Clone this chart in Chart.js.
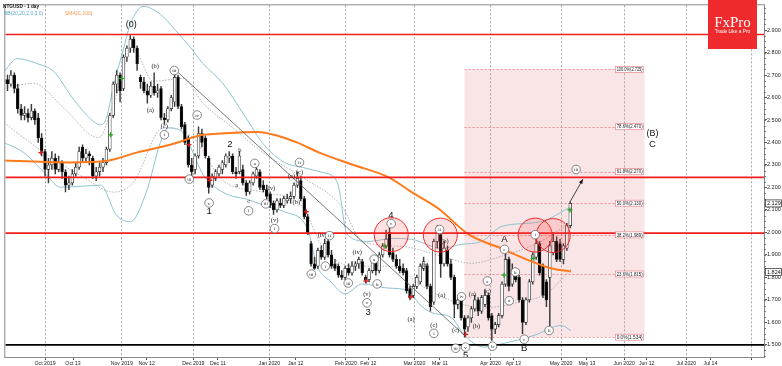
<!DOCTYPE html>
<html>
<head>
<meta charset="utf-8">
<script src="https://cdn.jsdelivr.net/npm/chart.js@4.4.0/dist/chart.umd.min.js"></script>
<style>
  html, body { margin: 0; padding: 0; background: #fff; }
  canvas { display: block; }
</style>
</head>
<body>
<canvas id="chart" width="782" height="366"></canvas>
<script>
// NTGUSD daily candles (bar 12 = Oct 1 2019)
const opens = [2.66,2.68,2.66,2.70,2.64,2.55,2.52,2.53,2.51,2.54, 2.51,2.42,2.36,2.28,2.30,2.33,2.28,2.31,2.27,2.21,
  2.22,2.26,2.29,2.38,2.33,2.35,2.33,2.25,2.27,2.29, 2.31,2.37,2.52,2.66,2.70,2.64,2.78,2.82,2.86,2.82,
  2.69,2.67,2.63,2.61,2.65,2.62,2.64,2.51,2.50,2.55, 2.58,2.69,2.56,2.48,2.42,2.30,2.28,2.34,2.44,2.42,
  2.33,2.21,2.24,2.26,2.28,2.30,2.33,2.34,2.27,2.27, 2.28,2.22,2.18,2.22,2.25,2.27,2.21,2.19,2.17,2.13,
  2.10,2.13,2.12,2.14,2.15,2.16,2.21,2.23,2.15,2.07, 1.95,1.86,1.85,1.92,1.89,1.96,1.90,1.86,1.85,1.81,
  1.80,1.84,1.82,1.85,1.86,1.87,1.80,1.79,1.83,1.88, 1.83,1.90,1.94,2.00,1.91,1.88,1.85,1.84,1.83,1.75,
  1.72,1.76,1.78,1.84,1.85,1.76,1.69,1.96,1.99,1.86, 1.92,1.86,1.80,1.68,1.70,1.62,1.58,1.62,1.66,1.70,
  1.65,1.68,1.72,1.63,1.57,1.59,1.63,1.77,1.88,1.77, 1.82,1.80,1.70,1.60,1.70,1.78,1.89,1.95,1.85,1.78,
  1.80,1.91,1.96,1.95,1.88,1.93,2.03];
const highs = [2.71,2.70,2.72,2.71,2.66,2.57,2.56,2.55,2.57,2.55, 2.53,2.44,2.37,2.33,2.36,2.35,2.34,2.32,2.28,2.25,
  2.28,2.31,2.38,2.39,2.37,2.36,2.34,2.29,2.31,2.33, 2.38,2.53,2.67,2.72,2.71,2.79,2.83,2.875,2.87,2.83,
  2.70,2.69,2.66,2.67,2.71,2.66,2.65,2.53,2.56,2.61, 2.72,2.70,2.57,2.49,2.43,2.33,2.35,2.47,2.46,2.43,
  2.34,2.26,2.28,2.30,2.32,2.35,2.36,2.35,2.29,2.36, 2.30,2.23,2.23,2.27,2.29,2.28,2.23,2.21,2.18,2.14,
  2.15,2.15,2.16,2.17,2.18,2.22,2.27,2.25,2.16,2.08, 1.96,1.89,1.93,1.94,1.97,1.97,1.92,1.88,1.86,1.83,
  1.85,1.86,1.87,1.87,1.89,1.88,1.81,1.84,1.88,1.89, 1.91,1.95,2.01,2.02,1.93,1.90,1.88,1.86,1.84,1.76,
  1.77,1.81,1.86,1.89,1.86,1.77,1.97,2.03,2.00,1.96, 1.94,1.88,1.81,1.72,1.71,1.63,1.63,1.67,1.72,1.71,
  1.72,1.745,1.73,1.64,1.60,1.64,1.78,1.905,1.89,1.86, 1.84,1.81,1.71,1.71,1.79,1.91,1.97,1.96,1.86,1.79,
  1.96,2.00,1.98,1.97,1.95,2.04,2.135];
const lows = [2.64,2.63,2.65,2.62,2.53,2.50,2.50,2.49,2.50,2.48, 2.40,2.34,2.25,2.22,2.28,2.26,2.27,2.24,2.18,2.19,
  2.21,2.25,2.28,2.31,2.31,2.30,2.24,2.23,2.25,2.27, 2.30,2.36,2.51,2.62,2.58,2.63,2.76,2.80,2.80,2.72,
  2.64,2.62,2.575,2.60,2.61,2.60,2.50,2.48,2.49,2.54, 2.56,2.55,2.46,2.39,2.29,2.24,2.26,2.33,2.38,2.33,
  2.175,2.20,2.23,2.25,2.26,2.29,2.31,2.26,2.24,2.26, 2.21,2.165,2.17,2.21,2.24,2.19,2.18,2.15,2.11,2.08,
  2.09,2.11,2.11,2.13,2.13,2.15,2.20,2.14,2.06,1.99, 1.85,1.835,1.84,1.88,1.88,1.89,1.84,1.83,1.80,1.79,
  1.79,1.81,1.81,1.83,1.84,1.81,1.775,1.78,1.82,1.81, 1.82,1.89,1.93,1.89,1.87,1.84,1.82,1.81,1.73,1.70,
  1.71,1.75,1.77,1.83,1.75,1.65,1.68,1.93,1.80,1.85, 1.85,1.79,1.62,1.66,1.61,1.534,1.56,1.60,1.65,1.63,
  1.64,1.67,1.61,1.52,1.55,1.58,1.62,1.76,1.74,1.76, 1.78,1.69,1.55,1.59,1.69,1.77,1.88,1.81,1.71,1.67,
  1.585,1.90,1.87,1.87,1.86,1.92,2.02];
const closes = [2.68,2.66,2.70,2.64,2.55,2.52,2.53,2.51,2.54,2.50, 2.42,2.36,2.28,2.30,2.33,2.28,2.31,2.27,2.21,2.22,
  2.26,2.29,2.36,2.33,2.35,2.34,2.25,2.27,2.29,2.31, 2.37,2.52,2.66,2.70,2.63,2.78,2.82,2.86,2.82,2.75,
  2.67,2.63,2.61,2.65,2.62,2.63,2.51,2.50,2.55,2.60, 2.69,2.56,2.47,2.40,2.30,2.27,2.34,2.44,2.40,2.34,
  2.20,2.25,2.27,2.29,2.31,2.34,2.34,2.27,2.26,2.34, 2.22,2.18,2.22,2.26,2.28,2.20,2.19,2.16,2.12,2.10,
  2.14,2.12,2.15,2.15,2.16,2.21,2.24,2.15,2.07,2.00, 1.86,1.84,1.92,1.89,1.95,1.90,1.85,1.84,1.81,1.80,
  1.84,1.82,1.85,1.86,1.88,1.82,1.79,1.83,1.87,1.83, 1.90,1.94,1.97,1.90,1.88,1.85,1.83,1.82,1.74,1.71,
  1.76,1.80,1.85,1.87,1.76,1.67,1.96,2.00,1.86,1.93, 1.86,1.80,1.68,1.70,1.62,1.57,1.62,1.66,1.70,1.65,
  1.71,1.72,1.62,1.57,1.59,1.63,1.77,1.88,1.76,1.83, 1.79,1.70,1.60,1.70,1.78,1.90,1.95,1.82,1.72,1.70,
  1.94,1.96,1.88,1.88,1.94,2.03,2.129];

// indicators, sampled as [bar, value]
const sma100 = [[0,2.320],[19.5,2.311],[29.2,2.316],[32,2.324],[38.8,2.355],[48.7,2.390],[58.3,2.434],[62.7,2.439],
  [74.3,2.447],[80.2,2.430],[86,2.399],[92.4,2.355],[102,2.302],[112.8,2.245],[119.5,2.179],[127.4,2.105],
  [136.2,1.991],[145.8,1.929],[154.5,1.872],[160.3,1.841],[166.2,1.826]];
const bbOuterUpper = [[0,2.715],[3.8,2.773],[9.6,2.751],[14.6,2.715],[19.5,2.610],[24.2,2.522],[28.3,2.478],[30,2.509],
  [32.1,2.654],[35,2.816],[37,2.926],[40.8,3.005],[45.8,2.970],[50.4,2.896],[54.5,2.825],[58.3,2.751],[64.1,2.663],
  [70,2.531],[76.4,2.386],[82.2,2.311],[87.5,2.289],[93.3,2.267],[97.7,2.223],[100.6,1.990],[107,1.960],[113.7,1.973],
  [119.5,1.969],[128.3,1.929],[134.1,1.947],[140,1.960],[145.8,2.026],[157.4,2.048],[166.2,2.114]];
const bbOuterLower = [[0,2.399],[5.8,2.355],[11.7,2.267],[16.6,2.201],[23.3,2.206],[28.3,2.210],[32.9,2.078],[37,2.048],
  [41.7,2.179],[45.8,2.399],[48.1,2.465],[52.5,2.443],[55.4,2.355],[58.3,2.258],[64.1,2.179],[72,2.144],[77.3,2.114],
  [82.2,2.092],[88.9,2.017],[91.8,1.850],[95.6,1.784],[100,1.727],[105,1.771],[112.2,1.753],[118.7,1.740],[121.6,1.683],
  [125.4,1.643],[131.2,1.621],[135,1.542],[140.8,1.490],[146.6,1.507],[155.4,1.542],[163.3,1.586],[166.2,1.564]];
const bbInnerUpper = [[0,2.641],[8.7,2.663],[17.5,2.553],[27.7,2.421],[32.1,2.575],[37.9,2.816],[43.7,2.672],[52.5,2.685],
  [58.3,2.575],[67.1,2.465],[75.8,2.355],[87.5,2.245],[99.1,2.114],[105,1.960],[116.6,1.938],[128.3,1.894],[137,1.863],
  [145.8,1.894],[157.4,1.960],[166.2,2.048]];
const bbInnerLower = [[0,2.487],[11.7,2.355],[23.3,2.245],[32.1,2.179],[37.9,2.223],[46.6,2.465],[55.4,2.421],[64.1,2.232],
  [75.8,2.179],[87.5,2.114],[93.3,1.938],[102,1.850],[113.7,1.850],[122.4,1.762],[131.2,1.696],[140.8,1.665],[152.5,1.696],
  [158.9,1.727],[166.2,1.837]];

// signal crosses
const greenBars = [31.2, 34.4, 111.7, 146.6, 155.1, 165.9];
const greenVals = [2.434, 2.685, 1.938, 1.810, 1.885, 2.100];
const redBars = [10.8, 54.2, 60.3, 88.6, 106.1, 119.2, 135.3];
const redVals = [2.355, 2.390, 2.232, 2.092, 1.784, 1.714, 1.547];

// axes
const tickBars = [12.0,20.2,34.5,41.8,55.5,62.7,77.8,85.5,100.2,106.8,120.3,127.8,142.6,149.3,163.3,170.9,181.8,188.4,200.0,207.1,219.2];
const tickLabels = ['Oct 2019','Oct 13','Nov 2019','Nov 12','Dec 2019','Dec 11','Jan 2020','Jan 12','Feb 2020','Feb 12',
  'Mar 2020','Mar 11','Apr 2020','Apr 13','May 2020','May 13','Jun 2020','Jun 12','Jul 2020','Jul 14',''];
const yTicks = [1.5,1.6,1.7,1.8,1.9,2.0,2.1,2.2,2.3,2.4,2.5,2.6,2.7,2.8,2.9];

// drawings
const redLevels = [2.880, 2.245, 1.997];
const blackLevel = 1.500;
const fibStartBar = 135, fibEndBar = 187.8;
const fibLevels = [1.534, 1.815, 1.989, 2.130, 2.270, 2.470, 2.725];
const fibTexts = ['0.0%(1.534)','23.6%(1.815)','38.2%(1.989)','50.0%(2.130)','61.8%(2.270)','78.6%(2.470)','100.0%(2.725)'];
const circleBars = [113.5, 127.9, 155.7, 161.0];
const circleVals = [1.990, 1.988, 1.988, 1.986];
const trendLine = [[50.4, 2.720], [135, 1.542]];
const arrowLine = [[165.9, 2.135], [169.7, 2.237]];
const lastClose = 2.129, lastSma = 1.824;

const waveText = ['(0)','1','2','3','4','5','A','B','(B)','C',
  '(a)','(b)','(c)','a','b','c','(iv)','(v)','(a)','(b)','(c)','(iv)','(iv)','(v)','(a)','(b)','(c)','(a)','(b)','(c)','(a)','(b)','(c)',
  'i','iii','iii','iv','v','i','a','iii','i','ii','iii','i','ii','iii','v','a','b','c','i','ii','iii','iv','v','a','b','c','a','b','c','i','ii','iii'];
const waveBar = [37.3,60.1,66.2,106.7,113.4,135.3,146.7,152.5,190.1,190.1,
  42.9,44.3,47.0,68.2,69.1,71.7,78.1,79.3,84.3,85.7,86.6,93.3,103.5,106.4,119.3,123.4,126.0,128.3,129.2,132.4,137.3,138.5,141.7,
  47.0,49.9,54.3,56.6,60.1,71.7,73.5,76.7,79.3,86.6,90.1,94.2,95.4,100.9,106.4,108.5,109.4,113.5,126.0,127.7,132.4,134.1,135.3,141.7,143.2,146.7,148.1,149.9,152.5,155.7,159.8,167.7];
const waveValue = [2.926,2.092,2.390,1.643,2.078,1.455,1.969,1.485,2.439,2.390,
  2.544,2.738,2.474,2.210,2.364,2.140,2.197,2.056,2.250,2.136,2.267,1.986,1.912,1.727,1.613,1.854,1.586,1.720,1.960,1.564,1.727,1.582,1.740,
  2.434,2.720,2.237,2.522,2.131,2.096,2.307,2.127,2.017,2.311,1.815,1.850,1.986,1.775,1.687,1.881,1.771,2.039,1.551,2.013,1.485,1.714,1.490,1.784,1.494,1.925,1.696,1.824,1.525,1.990,1.564,2.280];
const waveKind = waveText.map((t, i) => i < 10 ? 'big' : (i < 33 ? 'plain' : 'ring'));

const isMonthTick = tickLabels.map(t => t === '' || /\d{4}$/.test(t));
const pts = arr => arr.map(p => ({ x: p[0], y: p[1] }));

const overlay = {
  id: 'overlay',
  beforeDatasetsDraw(chart) {
    const { ctx, chartArea: a, scales: { x, y } } = chart;
    ctx.save();
    ctx.beginPath(); ctx.rect(a.left, a.top, a.right - a.left, a.bottom - a.top); ctx.clip();
    const x0 = x.getPixelForValue(fibStartBar), x1 = x.getPixelForValue(fibEndBar);
    const yt = y.getPixelForValue(fibLevels[fibLevels.length - 1]), yb = y.getPixelForValue(fibLevels[0]);
    ctx.fillStyle = 'rgba(226,120,130,0.2)';
    ctx.fillRect(x0, yt, x1 - x0, yb - yt);
    ctx.strokeStyle = 'rgba(225,80,90,0.7)'; ctx.lineWidth = 0.8; ctx.setLineDash([2, 2]);
    fibLevels.forEach(v => {
      const py = Math.round(y.getPixelForValue(v)) + 0.5;
      ctx.beginPath(); ctx.moveTo(x0, py); ctx.lineTo(x1, py); ctx.stroke();
    });
    ctx.restore();
  },
  afterDatasetsDraw(chart) {
    const { ctx, chartArea: a, scales: { x, y } } = chart;
    ctx.save();
    ctx.beginPath(); ctx.rect(a.left, a.top, a.right - a.left, a.bottom - a.top); ctx.clip();

    // horizontal levels
    ctx.lineWidth = 1.6; ctx.strokeStyle = '#f01e1e';
    redLevels.forEach(v => {
      const py = y.getPixelForValue(v);
      ctx.beginPath(); ctx.moveTo(a.left, py); ctx.lineTo(a.right, py); ctx.stroke();
    });
    ctx.strokeStyle = '#000'; ctx.lineWidth = 1.6;
    let py = y.getPixelForValue(blackLevel);
    ctx.beginPath(); ctx.moveTo(a.left, py); ctx.lineTo(a.right, py); ctx.stroke();

    // trend line
    ctx.strokeStyle = '#555'; ctx.lineWidth = 0.8;
    ctx.beginPath();
    ctx.moveTo(x.getPixelForValue(trendLine[0][0]), y.getPixelForValue(trendLine[0][1]));
    ctx.lineTo(x.getPixelForValue(trendLine[1][0]), y.getPixelForValue(trendLine[1][1]));
    ctx.stroke();

    // arrow
    const ax0 = x.getPixelForValue(arrowLine[0][0]), ay0 = y.getPixelForValue(arrowLine[0][1]);
    const ax1 = x.getPixelForValue(arrowLine[1][0]), ay1 = y.getPixelForValue(arrowLine[1][1]);
    ctx.strokeStyle = '#333'; ctx.fillStyle = '#111'; ctx.lineWidth = 0.9;
    ctx.beginPath(); ctx.moveTo(ax0, ay0); ctx.lineTo(ax1, ay1); ctx.stroke();
    const ang = Math.atan2(ay1 - ay0, ax1 - ax0);
    ctx.beginPath();
    ctx.moveTo(ax1, ay1);
    ctx.lineTo(ax1 - 5 * Math.cos(ang - 0.4), ay1 - 5 * Math.sin(ang - 0.4));
    ctx.lineTo(ax1 - 5 * Math.cos(ang + 0.4), ay1 - 5 * Math.sin(ang + 0.4));
    ctx.closePath(); ctx.fill();

    // red circles
    circleBars.forEach((b, i) => {
      ctx.beginPath();
      ctx.arc(x.getPixelForValue(b), y.getPixelForValue(circleVals[i]), 17, 0, Math.PI * 2);
      ctx.fillStyle = 'rgba(255,70,70,0.16)'; ctx.fill();
      ctx.strokeStyle = '#f02828'; ctx.lineWidth = 1; ctx.stroke();
    });

    // wave labels
    ctx.textAlign = 'center'; ctx.textBaseline = 'middle';
    waveText.forEach((t, i) => {
      const px = x.getPixelForValue(waveBar[i]), qy = y.getPixelForValue(waveValue[i]);
      if (waveKind[i] === 'big') {
        ctx.fillStyle = '#111';
        ctx.font = (t.length > 1 ? '9px' : '9.5px') + ' "Liberation Sans"';
        ctx.fillText(t, px, qy);
      } else if (waveKind[i] === 'plain') {
        ctx.fillStyle = '#1a1a1a';
        ctx.font = '6.5px "Liberation Serif"';
        ctx.fillText(t, px, qy);
      } else {
        ctx.beginPath(); ctx.arc(px, qy, 4.3, 0, Math.PI * 2);
        ctx.fillStyle = '#fff'; ctx.fill();
        ctx.strokeStyle = '#555'; ctx.lineWidth = 0.7; ctx.stroke();
        ctx.fillStyle = '#222'; ctx.font = '5px "Liberation Serif"';
        ctx.fillText(t, px, qy + 0.3, 6.5);
      }
    });

    // fib labels
    const fx1 = x.getPixelForValue(fibEndBar);
    ctx.font = '5px "Liberation Sans"'; ctx.textAlign = 'center';
    fibLevels.forEach((v, i) => {
      const ly = y.getPixelForValue(v);
      ctx.fillStyle = '#fff'; ctx.fillRect(fx1 - 29, ly - 3, 28, 6);
      ctx.strokeStyle = 'rgba(220,90,100,0.8)'; ctx.lineWidth = 0.6; ctx.strokeRect(fx1 - 29, ly - 3, 28, 6);
      ctx.fillStyle = '#222'; ctx.fillText(fibTexts[i], fx1 - 15, ly + 0.3, 26);
    });
    ctx.restore();
  },
  afterDraw(chart) {
    const { ctx, chartArea: a, scales: { y } } = chart;
    ctx.save();
    // frame
    ctx.strokeStyle = '#8a8a8a'; ctx.lineWidth = 1;
    ctx.strokeRect(a.left - 0.5, a.top - 0.5, a.right - a.left + 1, a.bottom - a.top + 1);
    // minor ticks on price axis
    ctx.strokeStyle = '#555'; ctx.lineWidth = 0.7;
    for (let v = 1.45; v <= 3.0; v += 0.025) {
      const py = Math.round(y.getPixelForValue(v)) + 0.5;
      ctx.beginPath(); ctx.moveTo(a.right, py); ctx.lineTo(a.right + 2, py); ctx.stroke();
    }
    // price boxes
    [[lastClose, lastClose.toFixed(3)], [lastSma, lastSma.toFixed(3)]].forEach(([v, t]) => {
      const py = y.getPixelForValue(v);
      ctx.fillStyle = '#fff'; ctx.fillRect(a.right + 1, py - 3.5, 16.5, 7);
      ctx.strokeStyle = '#222'; ctx.lineWidth = 0.7; ctx.strokeRect(a.right + 1.5, py - 3.5, 16, 7);
      ctx.fillStyle = '#111'; ctx.font = '5.5px "Liberation Sans"';
      ctx.textAlign = 'left'; ctx.textBaseline = 'middle';
      ctx.fillText(t, a.right + 3, py + 0.3);
    });
    // header
    ctx.textAlign = 'left'; ctx.textBaseline = 'alphabetic';
    ctx.fillStyle = '#111'; ctx.font = 'bold 6px "Liberation Sans"';
    ctx.fillText('NTGUSD - 1 day', 3, 8, 36);
    ctx.font = '5px "Liberation Sans"';
    ctx.fillStyle = '#5aa9c4'; ctx.fillText('BB(20,20,2.0,3.0)', 4, 15);
    ctx.fillStyle = '#f59a50'; ctx.fillText('SMA(C,100)', 65, 15);
    // logo
    ctx.fillStyle = '#ef2a2c';
    ctx.fillRect(708, 0, 49, 49);
    ctx.fillStyle = '#fff'; ctx.textAlign = 'center';
    ctx.font = '15px "Liberation Serif"';
    ctx.fillText('FxPro', 732.5, 27);
    ctx.font = '4.8px "Liberation Sans"';
    ctx.fillText('Trade Like a Pro', 732.5, 33);
    ctx.restore();
  }
};

new Chart(document.getElementById('chart'), {
  type: 'bar',
  data: {
    datasets: [
      { type: 'scatter', data: greenBars.map((b, i) => ({ x: b, y: greenVals[i] })), pointStyle: 'cross',
        pointRadius: 2.5, borderColor: '#22a022', borderWidth: 1.3, order: 0 },
      { type: 'scatter', data: redBars.map((b, i) => ({ x: b, y: redVals[i] })), pointStyle: 'cross',
        pointRadius: 2.5, borderColor: '#d21c1c', borderWidth: 1.3, order: 0 },
      { type: 'line', data: pts(sma100), borderColor: '#ff7a1a', borderWidth: 2, pointRadius: 0,
        cubicInterpolationMode: 'monotone', order: 1 },
      { data: closes.map((c, i) => ({ x: i, y: [opens[i], c] })),
        backgroundColor: closes.map((c, i) => c >= opens[i] ? '#ffffff' : '#000000'),
        borderColor: '#222', borderWidth: 0.7, borderSkipped: false, barThickness: 2.8, minBarLength: 1,
        grouped: false, order: 2 },
      { data: closes.map((c, i) => ({ x: i, y: [lows[i], highs[i]] })),
        backgroundColor: '#3a3a3a', borderWidth: 0, barThickness: 0.8, grouped: false, order: 3 },
      { type: 'line', data: pts(bbOuterUpper), borderColor: '#8cc3cf', borderWidth: 1, pointRadius: 0,
        cubicInterpolationMode: 'monotone', order: 4 },
      { type: 'line', data: pts(bbOuterLower), borderColor: '#8cc3cf', borderWidth: 1, pointRadius: 0,
        cubicInterpolationMode: 'monotone', order: 4 },
      { type: 'line', data: pts(bbInnerUpper), borderColor: '#a0a0a0', borderWidth: 0.8, borderDash: [1.5, 1.5],
        pointRadius: 0, cubicInterpolationMode: 'monotone', order: 4 },
      { type: 'line', data: pts(bbInnerLower), borderColor: '#a0a0a0', borderWidth: 0.8, borderDash: [1.5, 1.5],
        pointRadius: 0, cubicInterpolationMode: 'monotone', order: 4 }
    ]
  },
  options: {
    responsive: false,
    animation: false,
    layout: { padding: { left: 1, top: 1, right: 0, bottom: 0 } },
    plugins: { legend: { display: false }, tooltip: { enabled: false } },
    scales: {
      x: {
        type: 'linear', min: 0.35, max: 222.8, offset: false,
        afterBuildTicks: s => { s.ticks = tickBars.map(v => ({ value: v })); },
        afterFit: s => { s.height = 9; },
        ticks: { autoSkip: false, maxRotation: 0, padding: 0, color: '#222',
          font: { size: 5.2, family: 'Liberation Sans' }, callback: (v, i) => tickLabels[i] },
        grid: { offset: false, color: c => isMonthTick[c.index] ? '#a8a8a8' : 'rgba(0,0,0,0)',
          tickColor: '#555', tickLength: 3, lineWidth: 1 },
        border: { color: '#666', dash: [2, 2] }
      },
      y: {
        position: 'right', min: 1.446, max: 3.010,
        afterBuildTicks: s => { s.ticks = yTicks.map(v => ({ value: v })); },
        afterFit: s => { s.width = 18; },
        ticks: { padding: 0, color: '#222', font: { size: 5.5, family: 'Liberation Sans' },
          callback: v => Number(v).toFixed(3) },
        grid: { drawOnChartArea: false, tickLength: 3, color: '#555' },
        border: { color: '#666' }
      }
    }
  },
  plugins: [overlay]
});
</script>
</body>
</html>
